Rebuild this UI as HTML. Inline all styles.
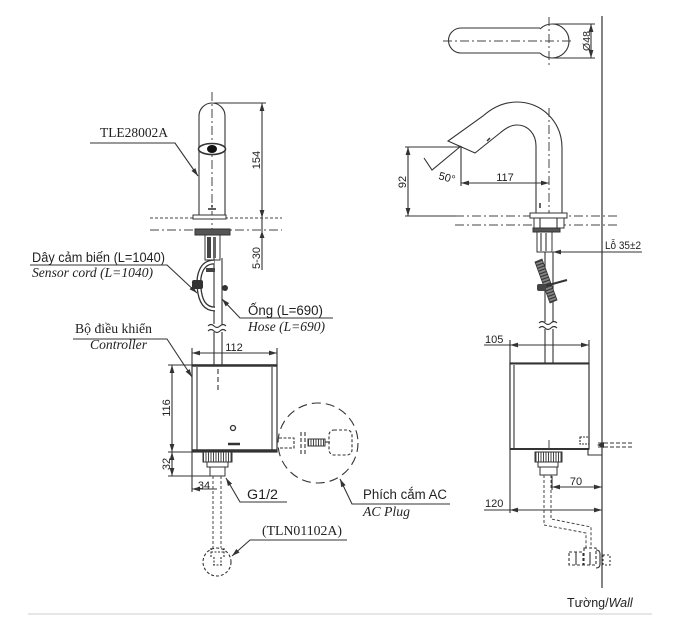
<!DOCTYPE html>
<html><head><meta charset="utf-8">
<style>
html,body{margin:0;padding:0;background:#fff;}
svg{display:block;}
.s{font-family:"Liberation Sans","Noto Sans CJK SC",sans-serif;fill:#222;}
.r{font-family:"Liberation Serif","Noto Serif CJK SC",serif;fill:#222;}
.i{font-style:italic;}
.ln{stroke:#333;stroke-width:1.1;fill:none;}
.dd{stroke:#444;stroke-width:1;fill:none;stroke-dasharray:9,3,2,3;}
.dt{stroke:#444;stroke-width:1;fill:none;stroke-dasharray:3,2;}
</style></head><body>
<svg width="692" height="637" viewBox="0 0 692 637" xmlns="http://www.w3.org/2000/svg">
<defs>
<marker id="a" viewBox="0 0 10 6" refX="10" refY="3" markerWidth="8" markerHeight="5" orient="auto-start-reverse" markerUnits="userSpaceOnUse"><path d="M0,0 L10,3 L0,6 z" fill="#333"/></marker>
<pattern id="h" width="2.5" height="4" patternUnits="userSpaceOnUse"><rect width="2.5" height="4" fill="#fff"/><line x1="1" y1="0" x2="1" y2="4" stroke="#444" stroke-width="1"/></pattern>
<pattern id="h2" width="3" height="3" patternUnits="userSpaceOnUse" patternTransform="rotate(-20)"><rect width="3" height="3" fill="#888"/><line x1="0" y1="1" x2="3" y2="1" stroke="#333" stroke-width="1.2"/></pattern>
</defs>

<!-- ================= LEFT VIEW ================= -->
<line x1="150" y1="218" x2="282" y2="218" class="dt"/>
<line x1="150" y1="230" x2="282" y2="230" class="dd"/>
<path d="M199,216 L199,116 A13,13 0 0 1 225,116 L225,216" class="ln" stroke-width="1.3"/>
<line x1="212" y1="92" x2="212" y2="242" class="dd"/>
<ellipse cx="212" cy="149" rx="13.5" ry="5.5" fill="#fff" stroke="#333" stroke-width="1.6"/>
<ellipse cx="212" cy="149" rx="5" ry="4" fill="#111"/>
<line x1="208" y1="209" x2="216" y2="209" stroke="#333" stroke-width="1.6"/>
<circle cx="212" cy="206" r="1" fill="#333"/>
<rect x="193" y="215" width="33" height="4" fill="#fff" stroke="#333"/>
<line x1="214" y1="103" x2="266" y2="103" class="ln"/>
<line x1="262" y1="103" x2="262" y2="218" class="ln" marker-start="url(#a)" marker-end="url(#a)"/>
<text x="260" y="160" transform="rotate(-90 260 160)" text-anchor="middle" class="s" font-size="11">154</text>
<line x1="262" y1="218" x2="262" y2="270" class="ln"/>
<path d="M262,231 l-2.5,7 l5,0 z" fill="#333"/>
<text x="260" y="258" transform="rotate(-90 260 258)" text-anchor="middle" class="s" font-size="11">5-30</text>
<text x="100" y="137" class="r" font-size="13.5" textLength="68" lengthAdjust="spacingAndGlyphs">TLE28002A</text>
<polyline points="90,143 175,143 198,176" class="ln" marker-end="url(#a)"/>
<rect x="195" y="229" width="35" height="6" fill="#555" stroke="#333"/>
<rect x="205" y="235" width="15" height="25" fill="#fff" stroke="#333"/>
<rect x="207" y="237" width="4" height="21" fill="#444"/>
<rect x="213" y="237" width="3" height="21" fill="#666"/>
<line x1="214" y1="258" x2="214" y2="324" class="ln"/>
<line x1="222" y1="258" x2="222" y2="324" class="ln"/>
<line x1="214" y1="332" x2="214" y2="365" class="ln"/>
<line x1="222" y1="332" x2="222" y2="365" class="ln"/>
<path d="M208,326 q3,-3 6,0 t6,0 t6,0 M208,331 q3,-3 6,0 t6,0 t6,0" class="ln"/>
<path d="M214,262 C201,262 198,276 199,287 C200,300 204,309 215,309" fill="none" stroke="#333" stroke-width="5"/>
<path d="M214,262 C201,262 198,276 199,287 C200,300 204,309 215,309" fill="none" stroke="#fff" stroke-width="2.4"/>
<rect x="192" y="280" width="11" height="9" rx="2" fill="#333"/>
<circle cx="225" cy="288" r="3" fill="#333"/>
<rect x="206" y="268" width="9" height="4" fill="#444"/>
<text x="32" y="262" class="s" font-size="13.5" textLength="133" lengthAdjust="spacingAndGlyphs">Dây cảm biến (L=1040)</text>
<polyline points="30,265 167,265 197,293" class="ln" marker-end="url(#a)"/>
<text x="32" y="277" class="r i" font-size="13.5" textLength="121" lengthAdjust="spacingAndGlyphs">Sensor cord (L=1040)</text>
<text x="248" y="315" class="s" font-size="13.5" textLength="75" lengthAdjust="spacingAndGlyphs">Ống (L=690)</text>
<polyline points="333,318 240,318 222,299" class="ln" marker-end="url(#a)"/>
<text x="248" y="331" class="r i" font-size="13.5" textLength="77" lengthAdjust="spacingAndGlyphs">Hose (L=690)</text>
<text x="75" y="333" class="r" font-size="13.5" textLength="77" lengthAdjust="spacingAndGlyphs">Bộ điều khiển</text>
<polyline points="73,339 167,339 192,377" class="ln" marker-end="url(#a)"/>
<text x="90" y="349" class="r i" font-size="13.5" textLength="57" lengthAdjust="spacingAndGlyphs">Controller</text>
<rect x="192" y="365" width="85" height="87" fill="#fff" stroke="#333" stroke-width="1.2"/>
<line x1="192" y1="365.5" x2="277" y2="365.5" stroke="#333" stroke-width="2.5"/>
<line x1="192" y1="450.5" x2="277" y2="450.5" stroke="#333" stroke-width="2.5"/>
<line x1="197" y1="367" x2="197" y2="450" class="ln"/>
<line x1="272" y1="367" x2="272" y2="450" class="ln"/>
<line x1="218" y1="369" x2="218" y2="392" class="ln" stroke-dasharray="5,3"/>
<circle cx="233" cy="428" r="2.5" fill="none" stroke="#333" stroke-width="1.3"/>
<line x1="228" y1="444" x2="240" y2="444" stroke="#333" stroke-width="2.5"/>
<line x1="192" y1="348" x2="192" y2="365" class="ln"/>
<line x1="277" y1="348" x2="277" y2="365" class="ln"/>
<line x1="192" y1="353" x2="277" y2="353" class="ln" marker-start="url(#a)" marker-end="url(#a)"/>
<text x="234" y="351" text-anchor="middle" class="s" font-size="11">112</text>
<line x1="168" y1="365" x2="192" y2="365" class="ln"/>
<line x1="168" y1="452" x2="192" y2="452" class="ln"/>
<line x1="168" y1="476" x2="210" y2="476" class="ln"/>
<line x1="172" y1="365" x2="172" y2="452" class="ln" marker-start="url(#a)" marker-end="url(#a)"/>
<line x1="172" y1="452" x2="172" y2="476" class="ln" marker-start="url(#a)" marker-end="url(#a)"/>
<text x="170" y="408" transform="rotate(-90 170 408)" text-anchor="middle" class="s" font-size="11">116</text>
<text x="170" y="464" transform="rotate(-90 170 464)" text-anchor="middle" class="s" font-size="11">32</text>
<line x1="192" y1="452" x2="192" y2="492" class="ln"/>
<line x1="192" y1="489" x2="217" y2="489" class="ln" marker-start="url(#a)"/>
<text x="204" y="489" text-anchor="middle" class="s" font-size="11">34</text>
<rect x="203" y="452" width="29" height="10" fill="url(#h)" stroke="#333"/>
<rect x="207" y="462" width="21" height="5" fill="#fff" stroke="#333"/>
<rect x="210" y="467" width="15" height="9" fill="#fff" stroke="#333"/>
<line x1="213" y1="476" x2="213" y2="548" class="dt"/>
<line x1="221" y1="476" x2="221" y2="548" class="dt"/>
<circle cx="217" cy="562" r="14" class="ln" stroke-dasharray="3,2"/>
<path d="M211,548 v9 M224,548 v9 M211,552 h13 M214,557 v8 M221,557 v8 M213,565 h10" class="ln" stroke-dasharray="2,1.5"/>
<text x="247" y="499" class="s" font-size="13.5" textLength="31" lengthAdjust="spacingAndGlyphs">G1/2</text>
<polyline points="287,502 240,502 226,478" class="ln" marker-end="url(#a)"/>
<text x="262" y="535" class="r" font-size="13.5" textLength="80" lengthAdjust="spacingAndGlyphs">(TLN01102A)</text>
<polyline points="347,540 250,540 232,556" class="ln" marker-end="url(#a)"/>
<circle cx="318" cy="443" r="40" class="ln" stroke-dasharray="9,5"/>
<path d="M279,438 h15 v10 h-15" class="ln" stroke-dasharray="3,1.5"/>
<line x1="301" y1="432" x2="301" y2="455" class="ln" stroke-dasharray="4,2"/>
<line x1="305" y1="432" x2="305" y2="455" class="ln" stroke-dasharray="4,2"/>
<rect x="308" y="439" width="17" height="7" fill="url(#h)" stroke="#333"/>
<line x1="325" y1="442" x2="330" y2="442" class="ln"/>
<rect x="329" y="430" width="23" height="25" rx="5" class="ln" stroke-dasharray="3,2"/>
<text x="363" y="499" class="s" font-size="13.5" textLength="84" lengthAdjust="spacingAndGlyphs">Phích cắm AC</text>
<polyline points="450,504 352,504 340,479" class="ln" marker-end="url(#a)"/>
<text x="363" y="516" class="r i" font-size="13.5" textLength="47" lengthAdjust="spacingAndGlyphs">AC Plug</text>

<!-- ================= RIGHT VIEW ================= -->
<line x1="602" y1="16" x2="602" y2="588" stroke="#333" stroke-width="1.2"/>
<path d="M540,28 L461,28 A12.5,12.5 0 0 0 461,53 L540,53" class="ln" stroke-width="1.2"/>
<path d="M540,29 A17,17 0 1 1 540,53" class="ln" stroke-width="1.2"/>
<line x1="443" y1="41" x2="573" y2="41" class="dd"/>
<line x1="549" y1="17" x2="549" y2="67" class="dd"/>
<line x1="552" y1="24" x2="595" y2="24" class="ln"/>
<line x1="552" y1="58" x2="595" y2="58" class="ln"/>
<line x1="591" y1="24" x2="591" y2="58" class="ln" marker-start="url(#a)" marker-end="url(#a)"/>
<text x="590" y="41" transform="rotate(-90 590 41)" text-anchor="middle" class="s" font-size="10.5">Ø48</text>
<line x1="455" y1="216" x2="618" y2="216" class="dd"/>
<line x1="455" y1="225" x2="618" y2="225" class="dd"/>
<path d="M562,214 L562,148 C562,122 542,102 517,102 C503,102 492,108 483,116 L448,141 L475,153 L500,133 C506,128 511,125 517,125 C528,125 536,134 536,146 L536,214" class="ln" stroke-width="1.2"/>
<line x1="487" y1="141" x2="490" y2="138" stroke="#333" stroke-width="1.5"/>
<line x1="549" y1="108" x2="549" y2="240" class="dd"/>
<line x1="540" y1="203" x2="540" y2="208" stroke="#333" stroke-width="1.5"/>
<line x1="461" y1="146" x2="461" y2="186" class="ln"/>
<line x1="461" y1="183" x2="549" y2="183" class="ln" marker-start="url(#a)" marker-end="url(#a)"/>
<text x="505" y="181" text-anchor="middle" class="s" font-size="11">117</text>
<line x1="405" y1="147" x2="461" y2="147" class="ln"/>
<line x1="405" y1="216" x2="456" y2="216" class="ln"/>
<line x1="408" y1="147" x2="408" y2="216" class="ln" marker-start="url(#a)" marker-end="url(#a)"/>
<text x="406" y="182" transform="rotate(-90 406 182)" text-anchor="middle" class="s" font-size="11">92</text>
<polyline points="461,146 432,170 424,158" class="ln"/>
<text x="438" y="179" transform="rotate(15 438 179)" class="s" font-size="11">50°</text>
<rect x="530" y="213" width="37" height="5" fill="#fff" stroke="#333"/>
<rect x="534" y="218" width="30" height="10" fill="#fff" stroke="#333"/>
<line x1="540" y1="218" x2="540" y2="228" class="ln"/>
<line x1="557" y1="218" x2="557" y2="228" class="ln"/>
<rect x="533" y="228" width="27" height="4" fill="#555" stroke="#333"/>
<rect x="537" y="232" width="15" height="20" fill="#fff" stroke="#333"/>
<line x1="541" y1="233" x2="541" y2="251" class="ln"/>
<line x1="546" y1="233" x2="546" y2="251" class="ln"/>
<line x1="553" y1="252" x2="642" y2="252" class="ln" marker-start="url(#a)"/>
<text x="605" y="249" class="s" font-size="11" textLength="36" lengthAdjust="spacingAndGlyphs">Lỗ 35±2</text>
<line x1="545" y1="252" x2="545" y2="322" class="ln"/>
<line x1="553" y1="252" x2="553" y2="322" class="ln"/>
<line x1="545" y1="329" x2="545" y2="363" class="ln"/>
<line x1="553" y1="329" x2="553" y2="363" class="ln"/>
<path d="M539,323 q3,-3 6,0 t6,0 t6,0 M539,328 q3,-3 6,0 t6,0 t6,0" class="ln"/>
<polygon points="535,262 542,259 557,300 550,303" fill="url(#h2)" stroke="#333" stroke-width="0.8"/>
<line x1="545" y1="286" x2="567" y2="280" stroke="#333" stroke-width="2"/>
<rect x="537" y="284" width="9" height="7" rx="2" fill="#444"/>
<line x1="510" y1="340" x2="510" y2="513" class="ln"/>
<line x1="589" y1="340" x2="589" y2="363" class="ln"/>
<line x1="484" y1="345" x2="510" y2="345" class="ln"/>
<line x1="510" y1="345" x2="589" y2="345" class="ln" marker-start="url(#a)" marker-end="url(#a)"/>
<text x="485" y="343" class="s" font-size="11">105</text>
<rect x="510" y="363" width="79" height="86" fill="#fff" stroke="#333" stroke-width="1.2"/>
<line x1="510" y1="363.5" x2="589" y2="363.5" stroke="#333" stroke-width="2"/>
<line x1="510" y1="449" x2="589" y2="449" stroke="#333" stroke-width="2"/>
<line x1="514" y1="365" x2="514" y2="448" class="ln"/>
<line x1="549" y1="440" x2="549" y2="452" class="dd"/>
<rect x="580" y="437" width="9" height="7" class="ln" stroke-dasharray="2,1"/>
<polyline points="588,450 588,455 602,455" class="ln"/>
<line x1="598" y1="443" x2="632" y2="443" class="ln" stroke-dasharray="4,2"/>
<line x1="598" y1="447" x2="632" y2="447" class="ln" stroke-dasharray="4,2"/>
<path d="M597,445 l7,-3 l0,6 z" fill="#333"/>
<rect x="535" y="452" width="27" height="10" fill="url(#h)" stroke="#333"/>
<rect x="538" y="462" width="20" height="5" fill="#fff" stroke="#333"/>
<rect x="540" y="467" width="17" height="8" fill="#fff" stroke="#333"/>
<path d="M544,475 L544,525 L586,533 L586,548" class="dt"/>
<path d="M551,475 L551,519 L591,527 L591,548" class="dt"/>
<line x1="552" y1="476" x2="552" y2="490" class="ln"/>
<line x1="552" y1="487" x2="602" y2="487" class="ln" marker-start="url(#a)" marker-end="url(#a)"/>
<text x="576" y="485" text-anchor="middle" class="s" font-size="11">70</text>
<line x1="484" y1="510" x2="510" y2="510" class="ln"/>
<line x1="510" y1="510" x2="602" y2="510" class="ln" marker-start="url(#a)" marker-end="url(#a)"/>
<text x="485" y="507" class="s" font-size="11">120</text>
<rect x="569" y="552" width="14" height="13" class="ln" stroke-dasharray="3,2"/>
<line x1="576" y1="552" x2="576" y2="565" class="ln"/>
<rect x="584" y="548" width="12" height="17" class="ln" stroke-dasharray="3,2"/>
<line x1="590" y1="552" x2="590" y2="565" class="ln"/>
<path d="M596,550 q4,0 4,4 v10 q0,4 -4,4" class="ln"/>
<rect x="603" y="555" width="7" height="10" class="ln" stroke-dasharray="2,2"/>
<text x="567" y="607" class="s" font-size="12.5">Tường/<tspan font-style="italic">Wall</tspan></text>
<line x1="28" y1="614" x2="652" y2="614" stroke="#e6e6e6" stroke-width="2"/>
</svg>
</body></html>
